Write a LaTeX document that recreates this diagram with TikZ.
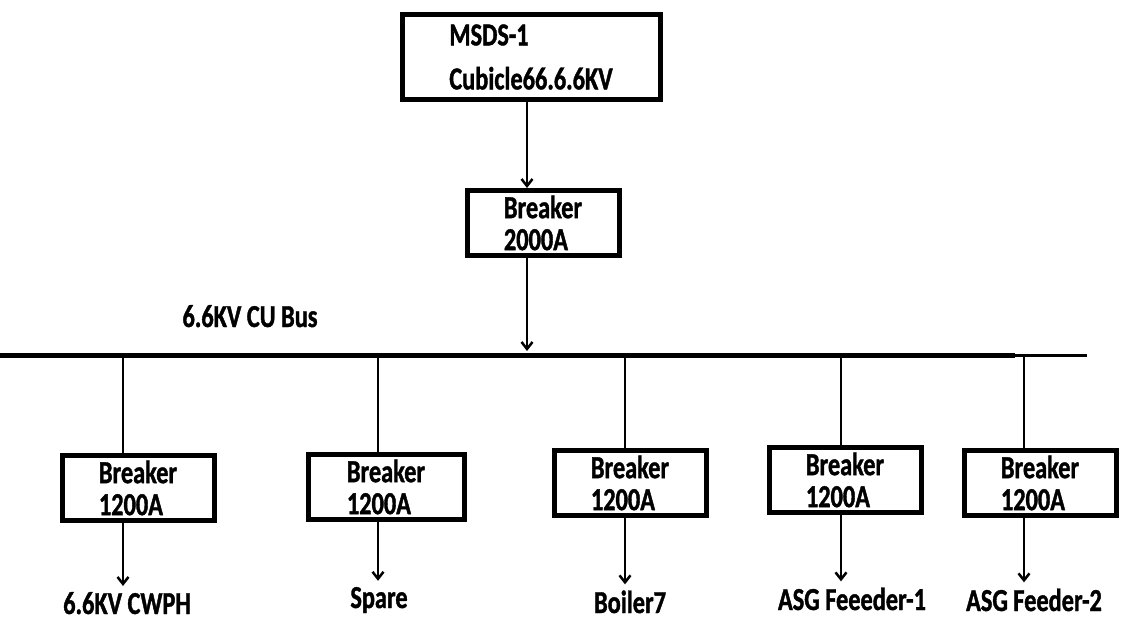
\documentclass[tikz,border=0pt]{standalone}
\usepackage{fontspec}
\newfontfamily\diagfont[FakeStretch=0.76, FakeBold=1.2]{Carlito}
\usetikzlibrary{arrows.meta, positioning}

\begin{document}
\begin{tikzpicture}[x=1pt, y=-1pt,
  box/.style={draw, line width=5pt, align=left, inner sep=0pt,
    minimum width=152, minimum height=65,
    font=\diagfont\bfseries\fontsize{32}{32}\selectfont},
  feed/.style={line width=2.5pt, -{Straight Barb[length=7pt, width=11pt, line width=2.5pt]}},
  tap/.style={line width=2.5pt},
  load/.style={anchor=base, inner xsep=0pt, inner ysep=6pt,
    font=\diagfont\bfseries\fontsize{32}{32}\selectfont}]
\useasboundingbox (0,0) rectangle (1134,626);

% Source and main breaker
\node[box, minimum width=258, minimum height=84] (msds) at (531,57)
  {MSDS-1\\[12pt]Cubicle66.6.6KV};
\node[box] (brk) at (543,223) {Breaker\\2000A};

% Bus
\coordinate (busL) at (0,355);
\coordinate (busM) at (1015,355);
\coordinate (busR) at (1087,355);
\draw[line width=5pt] (busL) -- (busM);
\draw[line width=3pt] (busM) -- (busR);
\node[load] (buslabel) at (250,327) {6.6KV CU Bus};

% Taps on the bus
\coordinate (t0) at (527,355);
\coordinate (t1) at (123,355);
\coordinate (t2) at (378,355);
\coordinate (t3) at (625,355);
\coordinate (t4) at (841,355);
\coordinate (t5) at (1024,355);

\draw[feed] (msds.south -| t0) -- (t0 |- brk.north);
\draw[feed, shorten >=4pt] (t0 |- brk.south) -- (t0);

% Feeder breakers
\node[box] (b1) at (138,488) {Breaker\\1200A};
\node[box, minimum width=156] (b2) at (386,487) {Breaker\\1200A};
\node[box] (b3) at (630,483) {Breaker\\1200A};
\node[box] (b4) at (845,480) {Breaker\\1200A};
\node[box] (b5) at (1040,483) {Breaker\\1200A};

% Loads
\node[load] (l1) at (127,614) {6.6KV CWPH};
\node[load] (l2) at (379,608) {Spare};
\node[load] (l3) at (630,613) {Boiler7};
\node[load] (l4) at (852,610) {ASG Feeeder-1};
\node[load] (l5) at (1034,611) {ASG Feeder-2};

\foreach \i in {1,...,5} {
  \draw[tap] (t\i) -- (t\i |- b\i.north);
  \draw[feed] (t\i |- b\i.south) -- (t\i |- l\i.north);
}
\end{tikzpicture}
\end{document}
